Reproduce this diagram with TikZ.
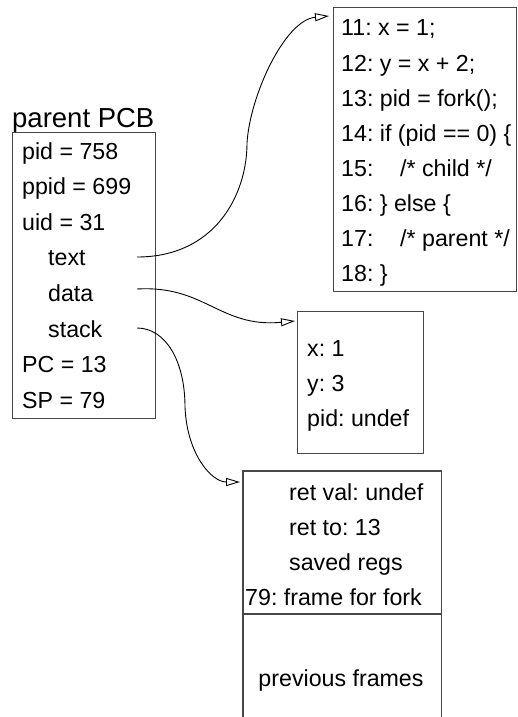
\documentclass[tikz,border=0pt]{standalone}
\usepackage{fontspec}
\setmainfont{Liberation Sans}
\frenchspacing
\usetikzlibrary{arrows.meta}
\tikzset{
  boxline/.style={draw=black!72, line width=1.2pt},
  boxnode/.style={boxline, anchor=north west, inner sep=0pt},
  row/.style={anchor=base west, inner sep=0pt, font=\fontsize{23.2}{28}\selectfont\frenchspacing},
  heading/.style={anchor=base west, inner sep=0pt, font=\fontsize{27.5}{32}\selectfont},
  ptr/.style={draw=black, line width=0.9pt, -{Triangle[open, length=14pt, width=8pt]}}
}
\begin{document}
\begin{tikzpicture}[x=1pt, y=-1pt]
\useasboundingbox (0,0) rectangle (518,717);

% parent PCB
\node[heading] (pcbtitle) at (12,127) {parent PCB};
\node[boxnode, minimum width=143pt, minimum height=286pt] (pcb) at (12,132) {};
\node[row] (r1) at (22,159) {pid = 758};
\node[row] (r2) at (22,194.6) {ppid = 699};
\node[row] (r3) at (22,230.2) {uid = 31};
\node[row] (r4) at (48,265.8) {text};
\node[row] (r5) at (48,301.4) {data};
\node[row] (r6) at (48,337) {stack};
\node[row] (r7) at (22,372.6) {PC = 13};
\node[row] (r8) at (22,408.2) {SP = 79};

% code box
\node[boxnode, minimum width=183pt, minimum height=284pt] (code) at (333,7) {};
\node[row] (c1) at (341,36) {11: x = 1;};
\node[row] (c2) at (341,71) {12: y = x + 2;};
\node[row] (c3) at (341,106) {13: pid = fork();};
\node[row] (c4) at (341,141) {14: if (pid == 0) \{};
\node[row] (c5) at (341,176) {\makebox[59pt][l]{15:}/* child */};
\node[row] (c6) at (341,211) {16: \} else \{};
\node[row] (c7) at (341,246) {\makebox[59pt][l]{17:}/* parent */};
\node[row] (c8) at (341,281) {18: \}};

% data box
\node[boxnode, minimum width=126pt, minimum height=142pt] (data) at (297,311) {};
\node[row] (d1) at (307,356) {x: 1};
\node[row] (d2) at (307,391) {y: 3};
\node[row] (d3) at (307,426) {pid: undef};

% stack box (open at the bottom)
\node[anchor=north west, inner sep=0pt, minimum width=198pt, minimum height=246pt] (stack) at (243,471) {};
\draw[boxline] (stack.south west) -- (stack.north west) -- (stack.north east) -- (stack.south east);
\coordinate (sepl) at (243,614);
\coordinate (sepr) at (441,614);
\draw[boxline] (sepl) -- (sepr);
\node[row] (s1) at (289,500) {ret val: undef};
\node[row] (s2) at (289,535) {ret to: 13};
\node[row] (s3) at (289,570) {saved regs};
\node[row] (s4) at (245,605) {79: frame for fork};
\node[row, anchor=base] (s5) at (341,686) {previous frames};

% pointer ends
\coordinate (ptext) at (137,257);
\coordinate (pdata) at (137,289);
\coordinate (pstack) at (137,328);
\coordinate (codein) at (329,16);
\coordinate (datain) at (295,321);
\coordinate (stackin) at (240,482);

\draw[ptr] (ptext) .. controls (215,257) and (247,195) .. (247,143)
  .. controls (250,95) and (285,20) .. (codein);
\draw[ptr] (pdata) .. controls (205,285) and (220,328) .. (datain);
\draw[ptr] (pstack) .. controls (165,328) and (185,360) .. (185,407)
  .. controls (187,455) and (212,482) .. (stackin);
\end{tikzpicture}
\end{document}
